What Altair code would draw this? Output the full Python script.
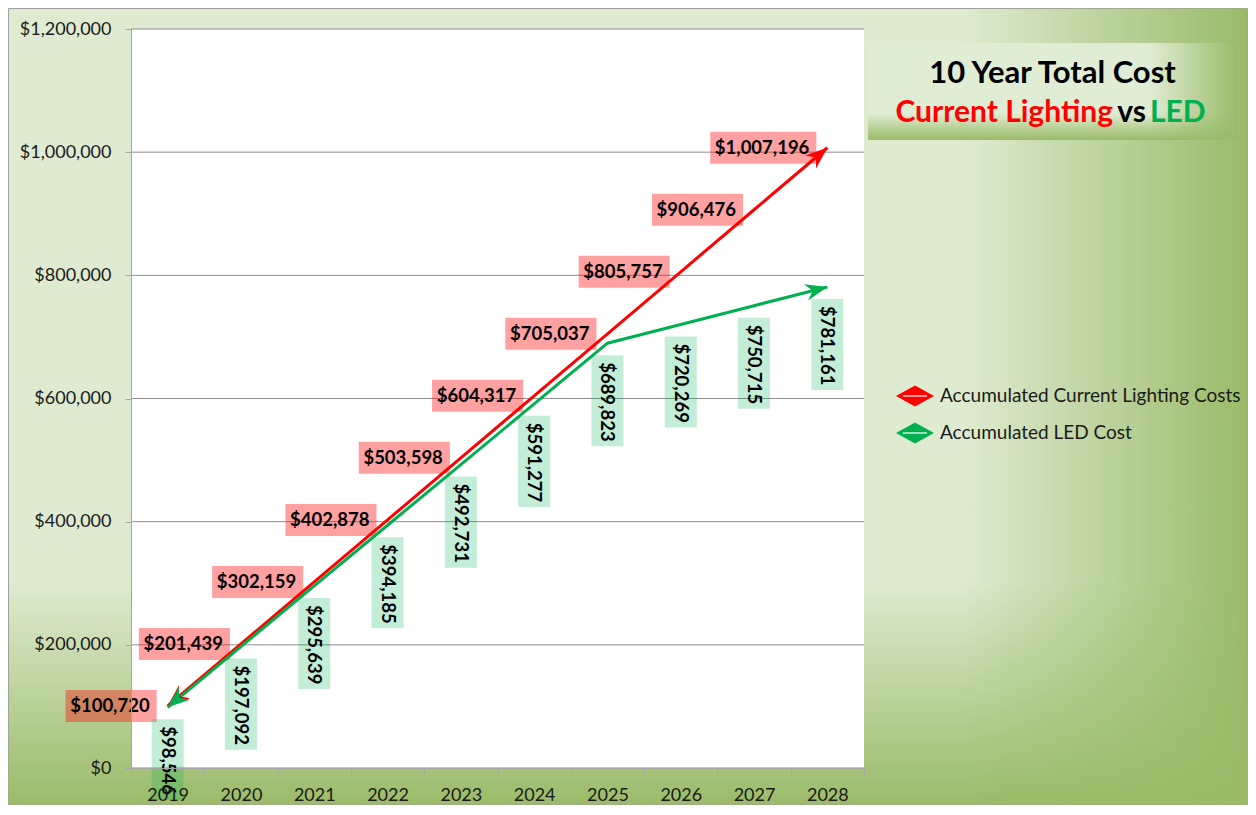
import math
import altair as alt
import pandas as pd

# ---------------- data ----------------
years = [2019, 2020, 2021, 2022, 2023, 2024, 2025, 2026, 2027, 2028]
current_costs = [100720, 201439, 302159, 402878, 503598, 604317, 705037, 805757, 906476, 1007196]
led_costs = [98546, 197092, 295639, 394185, 492731, 591277, 689823, 720269, 750715, 781161]
series_names = ["Accumulated Current Lighting Costs", "Accumulated LED Cost"]
y_ticks = [0, 200000, 400000, 600000, 800000, 1000000, 1200000]
title_line1 = "10 Year Total Cost"
title_line2 = ["Current Lighting", "vs", "LED"]

# ---------------- style ----------------
RED = "#FF0000"
GREEN = "#00B050"
FONT = "Lato"
W, H = 733, 739
YMAX = 1200000
PAD = {"left": 123, "top": 21, "right": 384, "bottom": 37}
LIGHT = "#DEEBD1"
DARK_RGB = "155,187,105"


def money(v):
    return f"${v:,}"


def text_w(s, size=18.5):
    return sum(0.25 if ch == "," else 0.56 for ch in s) * size


def red_box(label):
    w = text_w(label) + 14
    return f"M{-11 - w:.1f},-16L-11,-16L-11,16L{-11 - w:.1f},16Z"


def green_box(label):
    h = 12 + text_w(label) + 14
    return f"M-16,12L16,12L16,{h:.1f}L-16,{h:.1f}Z"


bw = W / len(years)
ky = H / YMAX


def ang(dx, dy):
    return math.degrees(math.atan2(dy, dx)) % 360


cur = pd.DataFrame({"year": years, "value": current_costs})
cur["label"] = cur["value"].map(money)
cur["box"] = cur["label"].map(red_box)
led = pd.DataFrame({"year": years, "value": led_costs})
led["label"] = led["value"].map(money)
led["box"] = led["label"].map(green_box)

ARROW = "M0,0L-22,-8.5L-15,0L-22,8.5Z"
arrows = pd.DataFrame({
    "year": [years[0], years[-1], years[0], years[-1]],
    "value": [current_costs[0], current_costs[-1], led_costs[0], led_costs[-1]],
    "ang": [
        ang(-bw, (current_costs[1] - current_costs[0]) * ky),
        ang(bw, -(current_costs[-1] - current_costs[-2]) * ky),
        ang(-bw, (led_costs[1] - led_costs[0]) * ky),
        ang(bw, -(led_costs[-1] - led_costs[-2]) * ky),
    ],
    "col": [RED, RED, GREEN, GREEN],
    "path": [ARROW] * 4,
})

one = pd.DataFrame({"a": [0]})

X = alt.X("year:O",
          scale=alt.Scale(type="band", paddingInner=0, paddingOuter=0),
          axis=alt.Axis(title=None, labelAngle=0, tickBand="extent", labelFontSize=18,
                        labelPadding=12, zindex=1))
Y = alt.Y("value:Q",
          scale=alt.Scale(domain=[0, YMAX], nice=False),
          axis=alt.Axis(title=None, values=y_ticks, format="$,.0f", grid=False,
                        labelFontSize=18, labelPadding=14, labelFlush=False, zindex=1))


def grad_h(start):
    return alt.LinearGradient(gradient="linear", x1=0, y1=0, x2=1, y2=0, stops=[
        alt.GradientStop(color=f"rgba({DARK_RGB},0)", offset=0),
        alt.GradientStop(color=f"rgba({DARK_RGB},0)", offset=start),
        alt.GradientStop(color=f"rgba({DARK_RGB},1)", offset=1),
    ])


def grad_v(start):
    return alt.LinearGradient(gradient="linear", x1=0, y1=0, x2=0, y2=1, stops=[
        alt.GradientStop(color=f"rgba({DARK_RGB},0)", offset=0),
        alt.GradientStop(color=f"rgba({DARK_RGB},0)", offset=start),
        alt.GradientStop(color=f"rgba({DARK_RGB},1)", offset=1),
    ])


def rect(x0, x1, y0, y1, **kw):
    return alt.Chart(one).mark_rect(**kw).encode(
        x=alt.value(x0), x2=alt.value(x1), y=alt.value(y0), y2=alt.value(y1))


fx0, fx1 = -PAD["left"] + 0.5, W + PAD["right"] - 0.5
fy0, fy1 = -PAD["top"] + 0.5, H + PAD["bottom"] - 0.5
bg_base = rect(fx0, fx1, fy0, fy1, fill=LIGHT, stroke="#A0A0A0", strokeWidth=1)
bg_v = rect(fx0, fx1, fy0, fy1, fill=grad_v(0.72))
bg_h = rect(fx0, fx1, fy0, fy1, fill=grad_h(0.77))

tx0, tx1, ty0, ty1 = 737, 1106, 14, 111
tb_base = rect(tx0, tx1, ty0, ty1, fill="#E0EDD5")
tb_v = rect(tx0, tx1, ty0, ty1, fill=grad_v(0.72))
tb_h = rect(tx0, tx1, ty0, ty1, fill=grad_h(0.76))


def label(txt, x, y, color="black", align="center", size=30, weight="bold"):
    return alt.Chart(one).mark_text(
        text=txt, align=align, baseline="alphabetic", font=FONT, fontSize=size,
        fontWeight=weight, color=color).encode(x=alt.value(x), y=alt.value(y))


t1 = label(title_line1, 921.5, 54, size=31)
t2a = label(title_line2[0], 982, 93, color=RED, align="right")
t2b = label(title_line2[1], 1000.5, 93, color="black")
t2c = label(title_line2[2], 1019, 93, color=GREEN, align="left")

plot_bg = rect(0, W, 0, H, fill="white")

grid = alt.Chart(pd.DataFrame({"value": y_ticks})).mark_rule(
    color="#8E8E8E", strokeWidth=1).encode(y=Y)

red_boxes = alt.Chart(cur).mark_point(
    filled=True, color=RED, opacity=0.37, size=4, strokeWidth=0).encode(
    x=X, y=Y, shape=alt.Shape("box:N", scale=None))
green_boxes = alt.Chart(led).mark_point(
    filled=True, color=GREEN, opacity=0.23, size=4, strokeWidth=0).encode(
    x=X, y=Y, shape=alt.Shape("box:N", scale=None))

red_line = alt.Chart(cur).mark_line(color=RED, strokeWidth=3).encode(x=X, y=Y)
green_line = alt.Chart(led).mark_line(color=GREEN, strokeWidth=3).encode(x=X, y=Y)

arrow_heads = alt.Chart(arrows).mark_point(
    filled=True, opacity=1, size=4, strokeWidth=0).encode(
    x=X, y=Y,
    shape=alt.Shape("path:N", scale=None),
    angle=alt.Angle("ang:Q", scale=None),
    color=alt.Color("col:N", scale=None))

red_text = alt.Chart(cur).mark_text(
    align="right", baseline="middle", dx=-18, font=FONT, fontSize=18.5,
    fontWeight="bold", color="black").encode(x=X, y=Y, text="label:N")
green_text = alt.Chart(led).mark_text(
    angle=90, align="left", baseline="middle", dx=19, font=FONT, fontSize=18.5,
    fontWeight="bold", color="black").encode(x=X, y=Y, text="label:N")

DIAMOND = "M-19,0L0,-10.5L19,0L0,10.5Z"
legend_layers = []
for i, (name, col) in enumerate(zip(series_names, [RED, GREEN])):
    ly = 367 + 37 * i
    legend_layers.append(
        alt.Chart(one).mark_point(filled=True, opacity=1, size=4, strokeWidth=0,
                                  color=col, shape=DIAMOND).encode(
            x=alt.value(784), y=alt.value(ly)))
    legend_layers.append(
        alt.Chart(one).mark_rule(color="white", strokeWidth=1.2).encode(
            x=alt.value(772), x2=alt.value(796), y=alt.value(ly)))
    legend_layers.append(
        alt.Chart(one).mark_text(text=name, align="left", baseline="middle",
                                 font=FONT, fontSize=19, color="#1a1a1a").encode(
            x=alt.value(809), y=alt.value(ly)))

chart = alt.layer(
    bg_base, bg_v, bg_h, tb_base, tb_v, tb_h, t1, t2a, t2b, t2c,
    plot_bg, grid, red_boxes, green_boxes, red_line, green_line, arrow_heads,
    red_text, green_text, *legend_layers
).properties(
    width=W, height=H,
    padding=PAD,
    autosize=alt.AutoSizeParams(type="none"),
    background="white",
).configure_view(stroke=None).configure_axis(
    domainColor="#A6A6A6", tickColor="#A6A6A6", tickSize=6,
    labelFont=FONT, labelColor="#1a1a1a"
)

chart.save("out.html", embed_options={"renderer": "svg", "actions": False})
